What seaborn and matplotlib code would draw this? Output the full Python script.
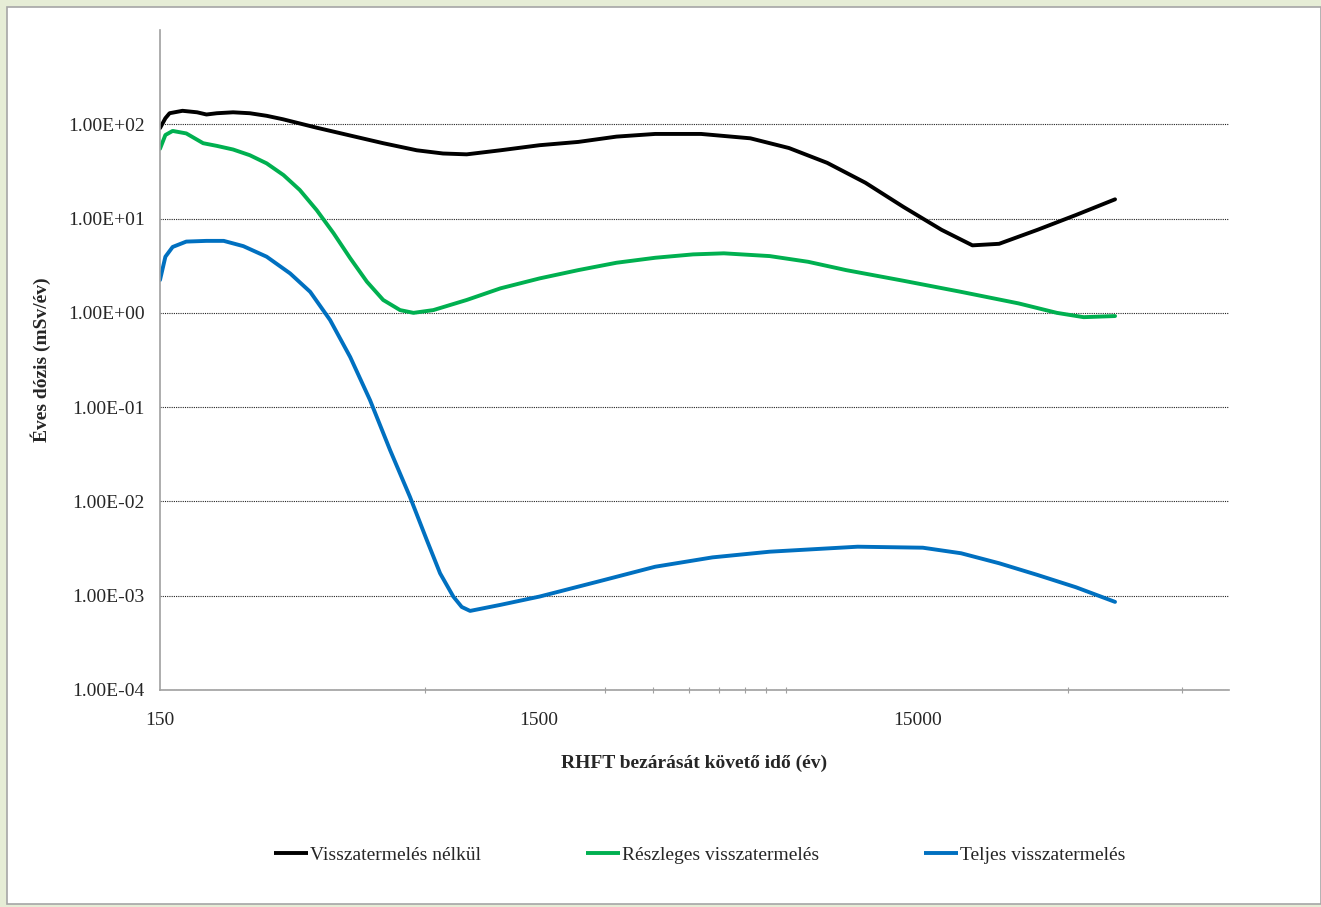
import matplotlib
matplotlib.use("Agg")
import matplotlib.pyplot as plt
from matplotlib.patches import Rectangle
from matplotlib.ticker import FixedLocator, FuncFormatter, NullFormatter
import pandas as pd
import seaborn as sns

# Annual dose after closure, three recycling scenarios
series_names = ["Visszatermelés nélkül", "Részleges visszatermelés", "Teljes visszatermelés"]

t_none = [150, 155, 159, 172, 188, 199, 212, 234, 259, 287, 317, 389, 477, 583, 715,
          839, 969, 1190, 1510, 1910, 2410, 3050, 4030, 5440, 6880, 8680, 10950, 13800,
          17400, 21000, 24700, 31200, 39400, 50000]
dose_none = [91, 116, 131, 139, 134, 127, 131, 134, 131, 123, 113, 92, 76, 63, 53,
             49, 48, 53, 60, 65, 74, 79, 79, 71, 56, 39, 24, 13.3,
             7.6, 5.2, 5.4, 7.6, 10.9, 16]

t_partial = [150, 155, 162, 176, 195, 212, 234, 259, 287, 318, 351, 389, 431, 477, 528,
             583, 646, 701, 791, 969, 1190, 1510, 1910, 2410, 3050, 3840, 4630, 6120,
             7730, 9740, 13800, 19600, 27800, 35100, 41300, 50000]
dose_partial = [55, 77, 85, 80, 63, 59, 54, 47, 38.5, 28.9, 20.1, 12.3, 7.0, 3.8, 2.14,
                1.37, 1.07, 1.0, 1.07, 1.37, 1.82, 2.32, 2.84, 3.4, 3.84, 4.17, 4.28, 4.0,
                3.48, 2.84, 2.19, 1.67, 1.26, 1.0, 0.90, 0.925]

t_full = [150, 155, 162, 176, 199, 221, 249, 287, 331, 374, 422, 477, 538, 608, 686,
          760, 824, 893, 940, 989, 1190, 1510, 2150, 3050, 4320, 6120, 10450, 15530,
          19600, 24700, 31200, 39400, 50000]
dose_full = [2.23, 3.94, 5.0, 5.7, 5.8, 5.8, 5.1, 3.94, 2.62, 1.67, 0.84, 0.34, 0.119,
             0.035, 0.0112, 0.0039, 0.00173, 0.00098, 0.00076, 0.00069, 0.00080, 0.00098,
             0.00141, 0.00203, 0.00255, 0.00293, 0.00331, 0.00323, 0.00282, 0.00221,
             0.00166, 0.00123, 0.00086]

x_labels = [150, 1500, 15000]
x_minor = [750, 1500, 2250, 3000, 3750, 4500, 5250, 6000, 6750, 37500, 75000]
y_major = [1e-4, 1e-3, 1e-2, 1e-1, 1e0, 1e1, 1e2]
colors = ["#000000", "#00B050", "#0070C0"]

df = pd.concat([
    pd.DataFrame({"t": t_none, "dose": dose_none, "series": series_names[0]}),
    pd.DataFrame({"t": t_partial, "dose": dose_partial, "series": series_names[1]}),
    pd.DataFrame({"t": t_full, "dose": dose_full, "series": series_names[2]}),
], ignore_index=True)

sns.set_theme(style="white")
plt.rcParams["font.family"] = ["Liberation Serif", "DejaVu Serif"]

W, H = 1321, 907
fig = plt.figure(figsize=(W / 100, H / 100), dpi=100, facecolor="#E6EDD6")
fig.patches.append(Rectangle((7 / W, 3 / H), 1 - 7 / W, 1 - 10 / H,
                             transform=fig.transFigure, facecolor="white",
                             edgecolor="#A6A6A6", lw=1.2, zorder=-10))

ax = fig.add_axes([160 / W, 1 - 690 / H, (1229 - 160) / W, (690 - 30) / H])
ax.set_zorder(2)
ax.set_facecolor("none")

sns.lineplot(data=df, x="t", y="dose", hue="series", hue_order=series_names,
             palette=colors, estimator=None, sort=False, linewidth=2.8, ax=ax)
for line in ax.get_lines():
    line.set_solid_joinstyle("round")
    line.set_solid_capstyle("round")

ax.set_xscale("log")
ax.set_yscale("log")
ax.set_xlim(150, 100000)
ax.set_ylim(1e-4, 1e3)

ax.xaxis.set_major_locator(FixedLocator(x_labels))
ax.xaxis.set_major_formatter(FuncFormatter(lambda v, _: f"{v:.0f}"))
ax.xaxis.set_minor_locator(FixedLocator(x_minor))
ax.xaxis.set_minor_formatter(NullFormatter())
ax.yaxis.set_major_locator(FixedLocator(y_major))
ax.yaxis.set_major_formatter(FuncFormatter(lambda v, _: f"{v:.2E}"))
ax.yaxis.set_minor_locator(FixedLocator([]))

ax.tick_params(axis="x", which="major", length=0, pad=16, labelsize=14)
ax.tick_params(axis="x", which="minor", length=5, width=0.8, direction="inout",
               color="#A0A0A0", bottom=True)
ax.tick_params(axis="y", which="major", length=0, pad=11, labelsize=14)

ax.yaxis.grid(True, which="major", linestyle=(0, (1, 1)), color="#222222", lw=0.8)
ax.xaxis.grid(False)
for side in ("top", "right"):
    ax.spines[side].set_visible(False)
for side in ("left", "bottom"):
    ax.spines[side].set_color("#A0A0A0")
    ax.spines[side].set_linewidth(1.2)

ax.set_xlabel("RHFT bezárását követő idő (év)", fontsize=14, fontweight="bold", labelpad=18)
ax.set_ylabel("Éves dózis (mSv/év)", fontsize=14, fontweight="bold", labelpad=12)

handles, labels = ax.get_legend_handles_labels()
ax.get_legend().remove()
for h in handles:
    h.set_solid_capstyle("butt")
fig.legend(handles, labels, loc="center", bbox_to_anchor=(700 / W, 1 - 855 / H),
           ncol=3, frameon=False, fontsize=14, handlelength=1.75, handletextpad=0.1,
           columnspacing=5.4)

fig.savefig("out.png", dpi=100, facecolor=fig.get_facecolor())
